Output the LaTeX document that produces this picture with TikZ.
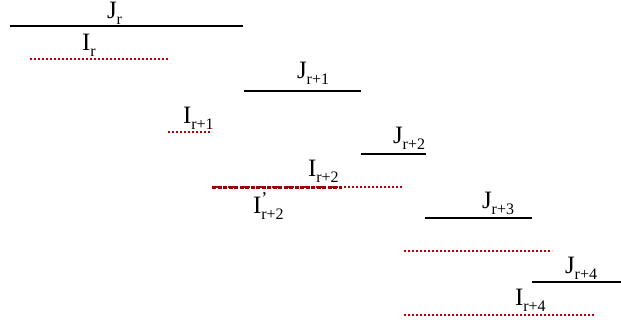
\documentclass[tikz,border=0pt]{standalone}
\usepackage{fontspec}
\setmainfont{Liberation Serif}
\usepackage{tikz}
\definecolor{ivColor}{HTML}{B80000}
\newcommand{\lsub}[1]{\raisebox{-6pt}{\fontsize{16}{19}\selectfont #1}}
\newcommand{\lprm}{\rlap{\raisebox{9pt}{\fontsize{18}{20}\selectfont '}}}

\begin{document}
\begin{tikzpicture}[x=1pt, y=-1pt,
			jline/.style={draw=black, line width=2pt},
			iline/.style={draw=ivColor, line width=2pt, dash pattern=on 2pt off 2pt},
			ipline/.style={draw=ivColor!85!black, line width=3pt, dash pattern=on 4pt off 1.5pt},
			lab/.style={anchor=base west, inner sep=0, outer sep=0, font=\fontsize{25}{29}\selectfont}]
			\useasboundingbox (0,0) rectangle (621,324);
			% job intervals J
			\draw[jline] (10,26) -- (243,26);
			\draw[jline] (244,91) -- (361,91);
			\draw[jline] (361,154) -- (426,154);
			\draw[jline] (425,218) -- (532,218);
			\draw[jline] (532,282) -- (621,282);
			% intervals I
			\draw[iline] (30,59) -- (169,59);
			\draw[iline] (168,132) -- (212,132);
			\draw[iline] (212,187) -- (403,187);
			\draw[ipline] (212,187) -- (342,187);
			\draw[iline] (404,251) -- (552,251);
			\draw[iline] (404,315) -- (595,315);
			% labels
			\node[lab] (jr) at (107,18.5) {J\lsub{r}};
			\node[lab] (ir) at (82,50) {I\lsub{r}};
			\node[lab] (jr1) at (297,78) {J\lsub{r+1}};
			\node[lab] (ir1) at (183,123) {I\lsub{r+1}};
			\node[lab] (jr2) at (393,143) {J\lsub{r+2}};
			\node[lab] (ir2) at (308,176) {I\lsub{r+2}};
			\node[lab] (ir2p) at (253,213) {I\lprm\lsub{r+2}};
			\node[lab] (jr3) at (482,208) {J\lsub{r+3}};
			\node[lab] (jr4) at (565,273) {J\lsub{r+4}};
			\node[lab] (ir4) at (515,305) {I\lsub{r+4}};
		\end{tikzpicture}
\end{document}
